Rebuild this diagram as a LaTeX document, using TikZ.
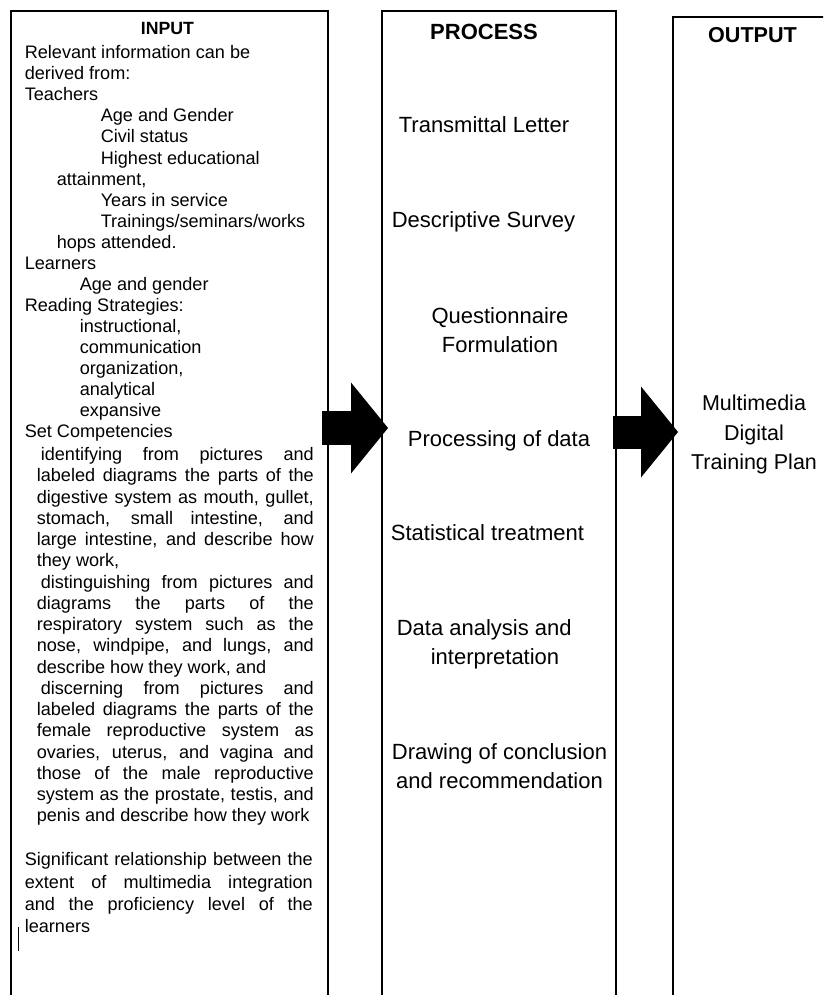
\documentclass[tikz,border=0pt]{standalone}
\usepackage{fontspec}
\setmainfont{Liberation Sans}
\usepackage{tikz}
\usetikzlibrary{arrows.meta,positioning}
\setlength{\parindent}{0pt}

\begin{document}
\begin{tikzpicture}[x=1pt,y=-1pt,line width=1.6pt,
	cadre/.style={draw,rectangle,outer sep=0,inner sep=0,anchor=north west,minimum height=1000},
	titre/.style={font=\bfseries\fontsize{#1}{#1}\selectfont,anchor=base,inner sep=0},
	petit/.style={font=\fontsize{18.1}{#1}\selectfont,inner sep=0,anchor=north west},
	grand/.style={font=\fontsize{22}{28.5}\selectfont,inner sep=0},
	fleche/.style={line width=#1,-{Triangle[length=37pt,width=91pt,line width=0pt]}}]
	\useasboundingbox (0,0) rectangle (823,995);
	\clip (0,0) rectangle (823,995);
	% les trois colonnes
	\node[cadre,minimum width=317] (input) at (11,11) {};
	\node[cadre,minimum width=234] (process) at (382,11) {};
	\node[cadre,minimum width=200] (output) at (673,17) {};
	\node[titre=17.7] (tinput) at (167.5,35) {INPUT};
	\node[titre=22] (tprocess) at (484,39.5) {PROCESS};
	\node[titre=21.6] (toutput) at (752.5,43) {OUTPUT};
	% colonne INPUT
	\node[petit=21.06,align=left] (sources) at (24,44.8) {Relevant information can be\\
		derived from:\\
		Teachers\\
		\hspace*{76pt}Age and Gender\\
		\hspace*{76pt}Civil status\\
		\hspace*{76pt}Highest educational\\
		\hspace*{32pt}attainment,\\
		\hspace*{76pt}Years in service\\
		\hspace*{76pt}Trainings/seminars/works\\
		\hspace*{32pt}hops attended.\\
		Learners\\
		\hspace*{55pt}Age and gender\\
		Reading Strategies:\\
		\hspace*{55pt}instructional,\\
		\hspace*{55pt}communication\\
		\hspace*{55pt}organization,\\
		\hspace*{55pt}analytical\\
		\hspace*{55pt}expansive\\
		Set Competencies};
	\node[petit=21.24,text width=277,align=justify] (competences) at (36,446.8) {%
		\hspace*{4pt}identifying from pictures and\linebreak labeled diagrams the parts of the\linebreak
		digestive system as mouth, gullet,\linebreak stomach, small intestine, and\linebreak
		large intestine, and describe how\linebreak they work,\par
		\hspace*{4pt}distinguishing from pictures and\linebreak diagrams the parts of the\linebreak
		respiratory system such as the\linebreak nose, windpipe, and lungs, and\linebreak
		describe how they work, and\par
		\hspace*{4pt}discerning from pictures and\linebreak labeled diagrams the parts of the\linebreak
		female reproductive system as\linebreak ovaries, uterus, and vagina and\linebreak
		those of the male reproductive\linebreak system as the prostate, testis, and\linebreak
		penis and describe how they work};
	\node[petit=22.3,text width=288,align=justify] (relation) at (24,851.8) {%
		Significant relationship between the\linebreak extent of multimedia integration\linebreak
		and the proficiency level of the\linebreak learners};
	\draw[line width=0.8] (18,927) -- (18,951);
	% colonne PROCESS
	\foreach \nom/\x/\y/\texte in {lettre/484/133/Transmittal Letter,
		enquete/483.5/227/Descriptive Survey,
		donnees/499/446/Processing of data,
		stat/487.5/540/Statistical treatment}
		\node[grand,anchor=base] (\nom) at (\x,\y) {\texte};
	\node[grand,anchor=north,align=center] (questionnaire) at (500,307) {Questionnaire\\Formulation};
	\node[grand,anchor=north west,align=left] (analyse) at (396,619.2) {Data analysis and\\\hspace*{34pt}interpretation};
	\node[grand,anchor=north,align=center] (conclusion) at (499.5,743.2) {Drawing of conclusion\\and recommendation};
	% colonne OUTPUT
	\node[grand,anchor=north,align=center,font=\fontsize{21.5}{29.5}\selectfont] (plan) at (754,394.6) {Multimedia\\Digital\\Training Plan};
	% fleches
	\coordinate (m1) at (0,428);
	\coordinate (m2) at (0,432);
	\draw[fleche=34pt,shorten <=-6pt,shorten >=-6pt] (input.east |- m1) -- (process.west |- m1);
	\draw[fleche=33pt,shorten <=-3pt,shorten >=-5pt] (process.east |- m2) -- (output.west |- m2);
\end{tikzpicture}
\end{document}
